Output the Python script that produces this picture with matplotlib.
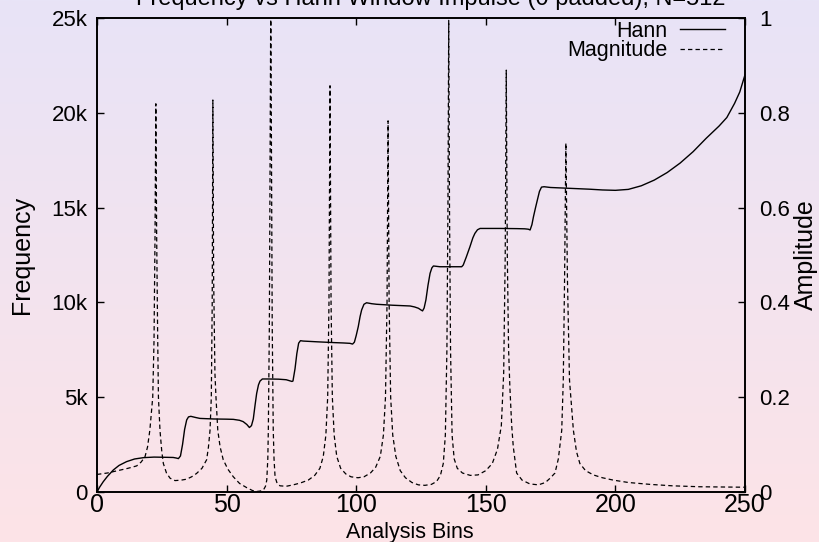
import numpy as np
import matplotlib
matplotlib.use('Agg')
import matplotlib.pyplot as plt
from matplotlib.ticker import FuncFormatter, MultipleLocator
from matplotlib.colors import LinearSegmentedColormap

# Hann window bin frequency estimate (Hz) per analysis bin
hann_bins = [0, 1, 2.4, 4, 6.3, 8.5, 11.4, 14.5, 17.9, 22, 26, 29.4, 30.6, 31.4,
             32.2, 33.0, 33.8, 34.6, 35.3, 36.2, 38, 39.7, 45, 50, 52.6, 55, 56.4,
             57.8, 58.8, 59.6, 60.3, 61, 61.6, 62.3, 62.9, 63.8, 66, 70, 73, 75.2,
             75.6, 76.4, 77.1, 77.8, 78.5, 79.5, 85, 91.2, 95, 97.6, 98.6, 99.3, 100.0,
             100.8, 101.5, 102.1, 103, 104, 106, 107.9, 114, 120.8, 122.5, 124.0,
             125.0, 125.6, 126.2, 126.9, 127.7, 128.5, 129.2, 129.8, 132.3, 140.7,
             141.3, 142.5, 143.9, 145, 145.8, 146.8, 147.8, 155.5, 162, 165, 166.4,
             167.1, 167.8, 168.4, 169.2, 169.9, 170.7, 171.5, 172.5, 175, 180, 185,
             190, 195, 200, 205, 210, 215, 220, 225, 230, 235, 240, 243, 246, 248, 250]
hann_freq = [0, 250, 540, 820, 1160, 1400, 1600, 1740, 1810, 1840, 1830, 1820, 1790, 1760,
             1900, 2500, 3300, 3800, 3960, 3990, 3930, 3880, 3850, 3840, 3830, 3780, 3710,
             3560, 3400, 3500, 3850, 4600, 5200, 5650, 5850, 5960, 5960, 5950, 5920, 5830,
             5850, 6500, 7300, 7850, 7980, 7960, 7920, 7880, 7860, 7840, 7800, 7900, 8250,
             8720, 9250, 9600, 9900, 9980, 9930, 9900, 9850, 9810, 9760, 9690,
             9600, 9550, 9700, 10130, 10900, 11530, 11820, 11920, 11880, 11880,
             11970, 12400, 12940, 13400, 13640, 13830, 13900, 13900, 13890, 13880, 13860,
             13820, 14100, 14520, 15000, 15400, 15850, 16080, 16100, 16060, 16030, 16000,
             15970, 15930, 15910, 15960, 16150, 16450, 16850, 17350, 17950, 18650, 19300,
             19750, 20500, 21100, 22000]

# normalised magnitude per analysis bin
mag_bins = [0, 4, 8.9, 12, 15.3, 17, 18.5, 19.5, 20.4, 21.0, 21.5, 22.0, 22.4, 22.7,
            23.0, 23.4, 23.7, 24.3, 25.0, 25.6, 26.8, 28.2, 30.1, 32.5, 34.6, 36.5,
            38.4, 40.5, 42.3, 43.0, 43.6, 44.1, 44.45, 44.7, 45.0, 45.5, 45.9, 46.6,
            47.5, 48.7, 50.5, 52.6, 55, 57.8, 60, 61.6, 63, 64.2, 65, 65.5, 65.9, 66.1,
            66.5, 67.05, 67.6, 68.0, 68.3, 68.7, 69.5, 70.6, 73, 75.7, 78.5, 81.5, 84,
            86, 87.3, 88.3, 89.0, 89.5, 89.9, 90.3, 90.8, 91.5, 92.5, 94, 96, 98, 100.7,
            103, 105.5, 107.5, 109.3, 110.5, 111.3, 111.9, 112.3, 112.7, 113.3, 114.1,
            115.3, 117, 119, 121.5, 124, 126.5, 129, 131, 132.5, 133.6, 134.4, 135.0,
            135.4, 135.7, 136.0, 136.4, 137.0, 137.8, 139, 141, 144, 147, 150, 152.5,
            154.5, 156, 156.9, 157.5, 157.9, 158.3, 158.8, 159.3, 160.0, 160.6, 161.9,
            164, 167, 170.3, 173, 175, 176.7, 178, 179.3, 179.9, 180.4, 180.9, 181.5,
            182.3, 183.8, 185, 186.3, 188.5, 191.5, 195, 199.2, 205, 213.4, 222, 232.6,
            240, 250]
mag_amp = [0.037, 0.040, 0.046, 0.050, 0.055, 0.063, 0.074, 0.095, 0.131, 0.17, 0.2, 0.32,
           0.55, 0.819, 0.55, 0.33, 0.2, 0.13, 0.085, 0.06, 0.04, 0.029, 0.024, 0.025,
           0.027, 0.032, 0.039, 0.05, 0.068, 0.095, 0.13, 0.2, 0.4, 0.827, 0.45, 0.25,
           0.2, 0.13, 0.095, 0.068, 0.048, 0.032, 0.018, 0.009, 0.003, 0.001, 0.002,
           0.004, 0.012, 0.025, 0.07, 0.13, 0.35, 1.05, 0.35, 0.13, 0.07, 0.032, 0.018,
           0.013, 0.012, 0.015, 0.019, 0.025, 0.035, 0.05, 0.075, 0.12, 0.2, 0.4, 0.857,
           0.4, 0.2, 0.12, 0.075, 0.05, 0.038, 0.032, 0.03, 0.032, 0.04, 0.052, 0.075,
           0.12, 0.2, 0.4, 0.783, 0.4, 0.2, 0.12, 0.075, 0.045, 0.03, 0.02, 0.015, 0.014,
           0.016, 0.022, 0.035, 0.06, 0.12, 0.3, 0.6, 0.995, 0.6, 0.3, 0.12, 0.07, 0.05,
           0.04, 0.035, 0.036, 0.045, 0.06, 0.09, 0.14, 0.25, 0.5, 0.89, 0.5, 0.3, 0.22,
           0.14, 0.096, 0.04, 0.025, 0.017, 0.015, 0.02, 0.03, 0.04, 0.07, 0.13, 0.236,
           0.45, 0.736, 0.45, 0.236, 0.13, 0.085, 0.06, 0.045, 0.036, 0.03, 0.025, 0.02,
           0.016, 0.013, 0.011, 0.0105, 0.01]

series_names = ['Hann', 'Magnitude']
title = 'Frequency vs Hann Window Impulse (0 padded), N=512'

plt.rcParams['font.family'] = ['Liberation Sans', 'DejaVu Sans']

fig = plt.figure(figsize=(8.2, 5.42), dpi=100)

# soft vertical gradient behind everything
bg = fig.add_axes([0, 0, 1, 1], zorder=-10)
grad = np.linspace(0, 1, 256).reshape(-1, 1)
cmap = LinearSegmentedColormap.from_list('bg', ['#e8e4f7', '#fde3e7'])
bg.imshow(grad, aspect='auto', cmap=cmap, extent=[0, 1, 0, 1], origin='upper')
bg.set_axis_off()

ax = fig.add_axes([0.1183, 0.0923, 0.7902, 0.8745])
ax.patch.set_visible(False)
ax2 = ax.twinx()

hann_line, = ax.plot(hann_bins, hann_freq, color='black', lw=1.0)
mag_line, = ax2.plot(mag_bins, mag_amp, color='black', lw=0.9, dashes=(3.5, 2.5))

ax.set_xlim(0, 250)
ax.set_ylim(0, 25000)
ax2.set_ylim(0, 1)

ax.xaxis.set_major_locator(MultipleLocator(50))
ax.yaxis.set_major_locator(MultipleLocator(5000))
ax2.yaxis.set_major_locator(MultipleLocator(0.2))
ax.yaxis.set_major_formatter(FuncFormatter(lambda v, p: '0' if v == 0 else f'{v / 1000:g}k'))
ax2.yaxis.set_major_formatter(FuncFormatter(lambda v, p: f'{v:g}'))

ax.tick_params(axis='x', direction='in', length=5, width=1, top=True, labelsize=18, pad=1)
ax.tick_params(axis='y', direction='in', length=5, width=1, right=False, labelsize=16, pad=7)
ax2.tick_params(axis='y', direction='in', length=5, width=1, labelsize=16, pad=10)

for a in (ax, ax2):
    for s in a.spines.values():
        s.set_linewidth(1.2)

ax.set_ylabel('Frequency', fontsize=18, va='center')
ax.yaxis.set_label_coords(-0.1165, 0.5)
ax2.set_ylabel('Amplitude', fontsize=18, va='center', rotation=90)
ax2.yaxis.set_label_coords(1.094, 0.5)
ax.set_xlabel('Analysis Bins', fontsize=15.5, va='center')
ax.xaxis.set_label_coords(0.483, -0.0865)

leg = ax2.legend([hann_line, mag_line], series_names, loc='upper right',
                 bbox_to_anchor=(0.969, 0.9937), borderpad=0, borderaxespad=0,
                 frameon=False, markerfirst=False, fontsize=15.5, handlelength=2.1,
                 handletextpad=0.55, labelspacing=-0.08)

fig.text(0.525, 0.9915, title, ha='center', va='baseline', fontsize=17)

fig.savefig('out.png', dpi=100)
